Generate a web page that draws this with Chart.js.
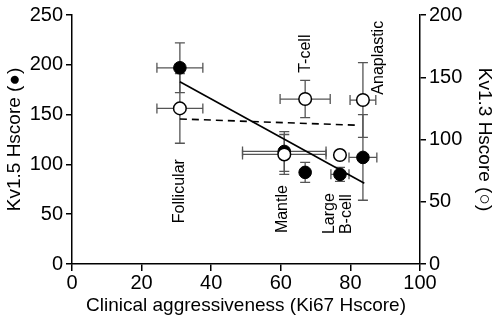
<!DOCTYPE html>
<html>
<head>
<meta charset="utf-8">
<script src="https://cdn.jsdelivr.net/npm/chart.js@4/dist/chart.umd.min.js"></script>
<style>
  html, body { margin: 0; background: #fff; }
</style>
</head>
<body>
<canvas id="chart" width="496" height="318"></canvas>
<script>
// lymphoma subtypes, in order of Ki67 score
const SUBTYPES = ['Follicular', 'Mantle', 'T-cell', 'Large B-cell', 'Anaplastic'];
const KI67 = [31, 61, 67, 77, 83.6];

// Kv1.5 (filled, left axis)
const KV15 = [197, 113, 92, 90, 107];
const KV15_ERR = [25, 20, 10, 7, 43];
const KI67_ERR15 = [6.6, 12, 0, 2.6, 4];

// Kv1.3 (open, right axis)
const KV13 = [125, 88, 132.5, 87.5, 131.7];
const KV13_ERR = [28, 16, 15, 0, 30];
const KI67_ERR13 = [6.6, 12, 7.2, 0, 3.7];

// regression lines
const FIT15_X = [31, 84];
const FIT15_Y = [183, 81];
const FIT13_X = [31, 81.5];
const FIT13_Y = [116.5, 111.5];

// subtype labels (x in Ki67, y in Kv1.5 units, text starts there and goes up)
const LABEL_TEXT = ['Follicular', 'Mantle', 'T-cell', 'Large', 'B-cell', 'Anaplastic'];
const LABEL_X = [31, 60.6, 67, 74.1, 79, 88];
const LABEL_Y = [41, 31, 192, 30, 30, 170];

const FONT = '"Liberation Sans", Arial, sans-serif';

const pts = (xs, ys) => xs.map((x, i) => ({ x, y: ys[i] }));

const errorBars = {
  id: 'errorBars',
  beforeDatasetsDraw(chart) {
    const { ctx, scales } = chart;
    const cap = 5;
    const draw = (ys, yErr, xErr, yScale) => {
      KI67.forEach((xv, i) => {
        const px = scales.x.getPixelForValue(xv);
        const py = yScale.getPixelForValue(ys[i]);
        ctx.beginPath();
        if (yErr[i] > 0) {
          const top = yScale.getPixelForValue(ys[i] + yErr[i]);
          const bot = yScale.getPixelForValue(ys[i] - yErr[i]);
          ctx.moveTo(px, top); ctx.lineTo(px, bot);
          ctx.moveTo(px - cap, top); ctx.lineTo(px + cap, top);
          ctx.moveTo(px - cap, bot); ctx.lineTo(px + cap, bot);
        }
        if (xErr[i] > 0) {
          const l = scales.x.getPixelForValue(xv - xErr[i]);
          const r = scales.x.getPixelForValue(xv + xErr[i]);
          ctx.moveTo(l, py); ctx.lineTo(r, py);
          ctx.moveTo(l, py - cap); ctx.lineTo(l, py + cap);
          ctx.moveTo(r, py - cap); ctx.lineTo(r, py + cap);
        }
        ctx.stroke();
      });
    };
    ctx.save();
    ctx.strokeStyle = '#555';
    ctx.lineWidth = 1.3;
    draw(KV15, KV15_ERR, KI67_ERR15, scales.y);
    draw(KV13, KV13_ERR, KI67_ERR13, scales.y2);
    ctx.restore();
  },
  afterDraw(chart) {
    const { ctx, scales } = chart;
    ctx.save();
    ctx.fillStyle = '#000';
    ctx.font = '16px ' + FONT;
    ctx.textAlign = 'left';
    ctx.textBaseline = 'middle';
    LABEL_TEXT.forEach((t, i) => {
      ctx.save();
      ctx.translate(scales.x.getPixelForValue(LABEL_X[i]), scales.y.getPixelForValue(LABEL_Y[i]));
      ctx.rotate(-Math.PI / 2);
      ctx.fillText(t, 0, 0);
      ctx.restore();
    });
    ctx.restore();
  },
};

const axisGrid = { drawOnChartArea: false, drawTicks: true, color: '#000', lineWidth: 1.5 };
const axisBorder = { color: '#000', width: 1.5 };

new Chart(document.getElementById('chart'), {
  type: 'scatter',
  data: {
    datasets: [
      {
        label: 'Kv1.5',
        data: pts(KI67, KV15),
        yAxisID: 'y',
        pointRadius: 6.3,
        backgroundColor: '#000',
        borderColor: '#000',
        order: 1,
      },
      {
        label: 'Kv1.3',
        data: pts(KI67, KV13),
        yAxisID: 'y2',
        pointRadius: 6.3,
        backgroundColor: '#fff',
        borderColor: '#000',
        borderWidth: 1.5,
        order: 0,
      },
      {
        type: 'line',
        data: pts(FIT15_X, FIT15_Y),
        yAxisID: 'y',
        borderColor: '#000',
        borderWidth: 1.6,
        pointRadius: 0,
        order: 2,
      },
      {
        type: 'line',
        data: pts(FIT13_X, FIT13_Y),
        yAxisID: 'y2',
        borderColor: '#000',
        borderWidth: 1.6,
        borderDash: [7, 5],
        pointRadius: 0,
        order: 2,
      },
    ],
  },
  options: {
    responsive: false,
    animation: false,
    devicePixelRatio: 1,
    layout: { padding: { top: 15, left: 0, right: 0, bottom: 0 } },
    plugins: { legend: { display: false }, tooltip: { enabled: false } },
    scales: {
      x: {
        type: 'linear',
        min: 0,
        max: 100,
        ticks: { stepSize: 20, color: '#000', font: { size: 20, family: FONT }, padding: 0 },
        grid: { ...axisGrid, tickLength: 7 },
        border: axisBorder,
        title: {
          display: true,
          text: 'Clinical aggressiveness (Ki67 Hscore)',
          color: '#000',
          font: { size: 19, family: FONT },
          padding: { top: 0, bottom: 1 },
        },
        afterFit: (s) => { s.height = 54; },
      },
      y: {
        position: 'left',
        min: 0,
        max: 250,
        ticks: { stepSize: 50, color: '#000', font: { size: 20, family: FONT }, padding: 3 },
        grid: { ...axisGrid, tickLength: 6 },
        border: axisBorder,
        title: {
          display: true,
          text: 'Kv1.5 Hscore (●)',
          color: '#000',
          font: { size: 19, family: FONT },
          padding: { top: 3, bottom: 0 },
        },
        afterFit: (s) => { s.width = 72; },
      },
      y2: {
        position: 'right',
        min: 0,
        max: 200,
        ticks: { stepSize: 50, color: '#000', font: { size: 20, family: FONT }, padding: 3 },
        grid: { ...axisGrid, tickLength: 6 },
        border: axisBorder,
        title: {
          display: true,
          text: 'Kv1.3 Hscore (○)',
          color: '#000',
          font: { size: 19, family: FONT },
          padding: { top: 0, bottom: 0 },
        },
        afterFit: (s) => { s.width = 76; },
      },
    },
  },
  plugins: [errorBars],
});
</script>
</body>
</html>
